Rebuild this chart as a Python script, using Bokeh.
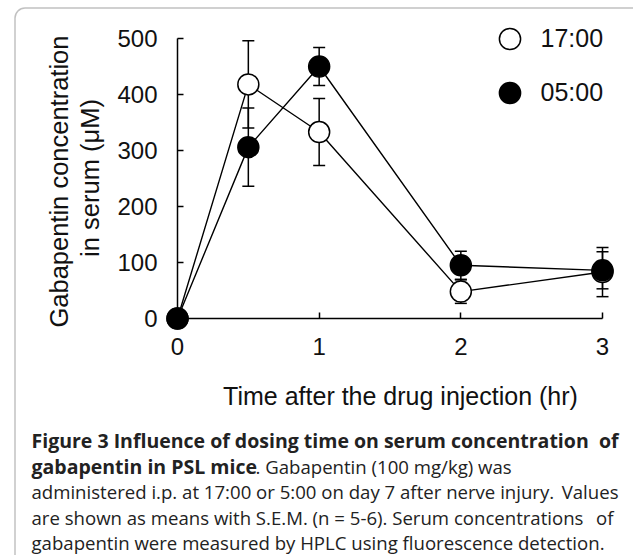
import numpy as np
from bokeh.plotting import figure
from bokeh.models import (Range1d, ColumnDataSource, Whisker, TeeHead, FixedTicker,
                          Label, Legend, LegendItem, BoxAnnotation)
from bokeh.embed import file_html
from bokeh.resources import INLINE

# ---------------- data ----------------
time_hr = [0, 0.5, 1, 2, 3]
pm_mean = [0, 418, 333, 48, 83]      # dosed at 17:00
pm_sem = [0, 78, 60, 21, 44]
am_mean = [0, 306, 450, 95, 86]      # dosed at 05:00
am_sem = [0, 70, 34, 25, 33]
x_ticks = [0, 1, 2, 3]
y_ticks = [0, 100, 200, 300, 400, 500]
series_labels = ["17:00", "05:00"]
x_title = "Time after the drug injection (hr)"
y_title = ["Gabapentin  concentration", "in serum (\u03bcM)"]
caption_bold_1 = "Figure 3 Influence of dosing time on serum concentration"
caption_bold_1b = "of"
caption_bold_2 = "gabapentin in PSL mice"
caption_reg_2 = ". Gabapentin (100 mg/kg) was"
caption_reg_3 = "administered i.p. at 17:00 or 5:00 on day 7 after nerve injury."
caption_reg_3b = "Values"
caption_reg_4 = "are shown as means with S.E.M. (n = 5-6). Serum concentrations"
caption_reg_4b = "of"
caption_reg_5 = "gabapentin were measured by HPLC using fluorescence detection."

# ---------------- layout (page pixels) ----------------
W, H = 633, 555
M = 0
X0_PX, X3_PX = 177, 602
Y0_PX, Y500_PX = 318, 38
sx_ = (X3_PX - X0_PX) / 3.0
sy_ = (Y0_PX - Y500_PX) / 500.0


def dx(px):
    return (px - X0_PX) / sx_


def dy(py):
    return (Y0_PX - py) / sy_


p = figure(width=W, height=H, output_backend="svg", toolbar_location=None, title=None,
           x_range=Range1d(dx(M), dx(M + W)), y_range=Range1d(dy(M + H), dy(M)),
           min_border=0, background_fill_color="white", border_fill_color="white",
           outline_line_color=None)
p.grid.visible = False

AX_FONT = "Liberation Sans"
TXT = "#111111"

xa = p.xaxis[0]
xa.fixed_location = 0
xa.bounds = (0, 3)
xa.ticker = FixedTicker(ticks=x_ticks)
ya = p.yaxis[0]
ya.fixed_location = 0
ya.bounds = (0, 500)
ya.ticker = FixedTicker(ticks=y_ticks)
for ax in (xa, ya):
    ax.major_tick_in = 6
    ax.major_tick_out = 0
    ax.minor_tick_line_color = None
    ax.axis_line_width = 1.5
    ax.axis_line_color = "black"
    ax.major_tick_line_width = 1.5
    ax.major_tick_line_color = "black"
    ax.major_label_text_font = AX_FONT
    ax.major_label_text_font_size = "24px"
    ax.major_label_text_color = TXT
xa.major_label_standoff = 19
ya.major_label_standoff = 20

src_pm = ColumnDataSource(dict(x=time_hr, y=pm_mean,
                               lo=[m - s for m, s in zip(pm_mean, pm_sem)],
                               hi=[m + s for m, s in zip(pm_mean, pm_sem)]))
src_am = ColumnDataSource(dict(x=time_hr, y=am_mean,
                               lo=[m - s for m, s in zip(am_mean, am_sem)],
                               hi=[m + s for m, s in zip(am_mean, am_sem)]))

for src in (src_pm, src_am):
    p.add_layout(Whisker(source=src, base="x", lower="lo", upper="hi",
                         line_color="black", line_width=1.5,
                         upper_head=TeeHead(size=12, line_width=1.5, line_color="black"),
                         lower_head=TeeHead(size=12, line_width=1.5, line_color="black")))
    p.line("x", "y", source=src, line_color="black", line_width=1.4)

r_pm = p.scatter("x", "y", source=src_pm, size=21, fill_color="white",
                 line_color="black", line_width=1.5)
r_am = p.scatter("x", "y", source=src_am, size=21, fill_color="black",
                 line_color="black", line_width=1.5)

# legend (glyph box sized so the legend circle matches the plotted markers)
LG = 53
legend = Legend(items=[LegendItem(label=series_labels[0], renderers=[r_pm]),
                       LegendItem(label=series_labels[1], renderers=[r_am])],
                location=(509 - LG / 2 - M, H - (38 - LG / 2 - M) - (2 * LG + 1)),
                orientation="vertical", padding=0, margin=0, spacing=1,
                glyph_width=LG, glyph_height=LG, label_height=LG, label_standoff=5,
                label_text_font=AX_FONT, label_text_font_size="25px",
                label_text_color=TXT, label_text_baseline="middle",
                background_fill_alpha=0, border_line_alpha=0)
p.add_layout(legend)

# axis titles
p.add_layout(Label(x=dx(400), y=dy(395), text=x_title, text_align="center",
                   text_baseline="alphabetic", text_font=AX_FONT, text_font_size="25px",
                   text_color=TXT))
for txt, bx in zip(y_title, (58, 89)):
    p.add_layout(Label(x=dx(bx), y=dy(177.5), text=txt, angle=np.pi / 2,
                       text_align="center", text_baseline="alphabetic", text_font=AX_FONT,
                       text_font_size="25.5px", text_color=TXT))

# frame border
p.add_layout(BoxAnnotation(left=dx(14.5), right=dx(900), top=dy(7.5), bottom=dy(900),
                           fill_alpha=0, line_color="#333333", line_width=1.5,
                           border_radius=10))

# caption
CAP_FONT = "Open Sans"
CAP_COL = "#222222"


def cap(text, x, y, bold=False, align="left"):
    p.add_layout(Label(x=dx(x), y=dy(y), text=text, text_align=align,
                       text_baseline="alphabetic", text_font=CAP_FONT,
                       text_font_size="19.5px" if bold else "18.6px",
                       text_font_style="bold" if bold else "normal",
                       text_color=CAP_COL))


LEFT, RIGHT = 31, 618
cap(caption_bold_1, LEFT, 440, bold=True)
cap(caption_bold_1b, RIGHT, 440, bold=True, align="right")
cap(caption_bold_2, LEFT, 465.5, bold=True)
cap(caption_reg_2, 255, 465.5)
cap(caption_reg_3, LEFT, 491)
cap(caption_reg_3b, RIGHT, 491, align="right")
cap(caption_reg_4, LEFT, 516.5)
cap(caption_reg_4b, 613, 516.5, align="right")
cap(caption_reg_5, LEFT, 542)

open("out.html", "w").write(file_html(p, INLINE))
